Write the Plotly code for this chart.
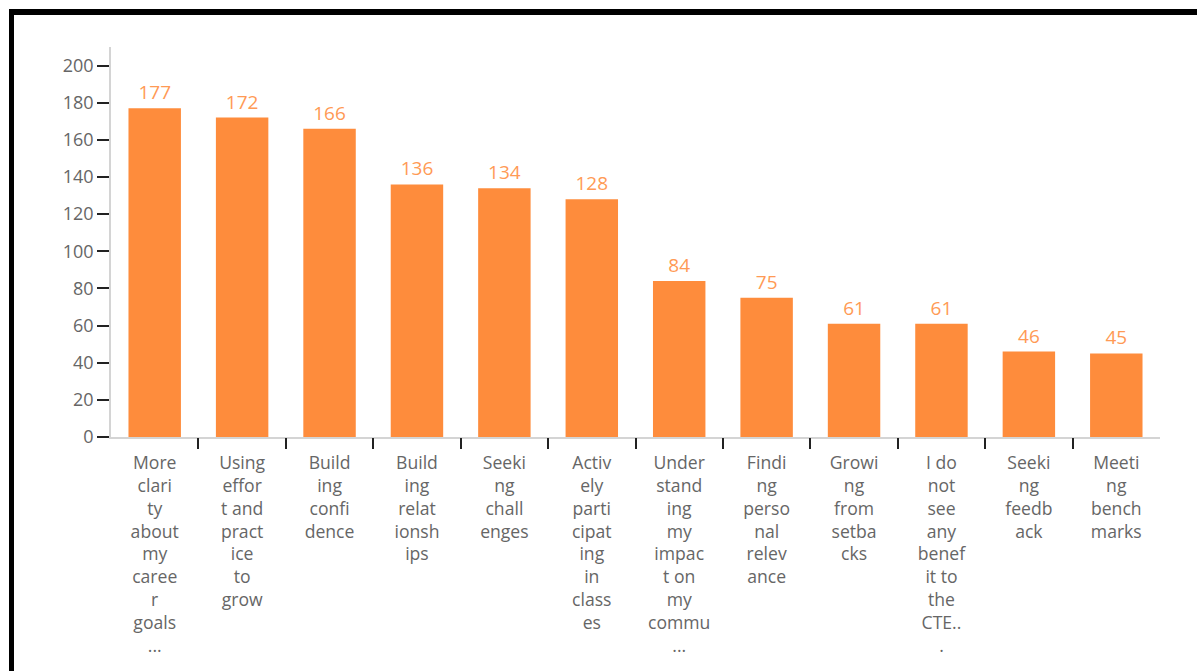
import plotly.graph_objects as go

# Responses per category (already wrapped the way the axis shows them)
categories = [
    "More<br>clari<br>ty<br>about<br>my<br>caree<br>r<br>goals<br>...",
    "Using<br>effor<br>t and<br>pract<br>ice<br>to<br>grow",
    "Build<br>ing<br>confi<br>dence",
    "Build<br>ing<br>relat<br>ionsh<br>ips",
    "Seeki<br>ng<br>chall<br>enges",
    "Activ<br>ely<br>parti<br>cipat<br>ing<br>in<br>class<br>es",
    "Under<br>stand<br>ing<br>my<br>impac<br>t on<br>my<br>commu<br>...",
    "Findi<br>ng<br>perso<br>nal<br>relev<br>ance",
    "Growi<br>ng<br>from<br>setba<br>cks",
    "I do<br>not<br>see<br>any<br>benef<br>it to<br>the<br>CTE..<br>.",
    "Seeki<br>ng<br>feedb<br>ack",
    "Meeti<br>ng<br>bench<br>marks",
]
counts = [177, 172, 166, 136, 134, 128, 84, 75, 61, 61, 46, 45]
y_ticks = [0, 20, 40, 60, 80, 100, 120, 140, 160, 180, 200]

BAR = "#FE8C3C"
LABEL = "#FF9A55"
GREY_TXT = "#666666"
FONT = "Open Sans"

W, H = 1197, 671
M = dict(l=111, r=37, t=47, b=234)
pw = W - M["l"] - M["r"]
ph = H - M["t"] - M["b"]


def px_x(p):
    return (p - M["l"]) / pw


def px_y(p):
    return (H - M["b"] - p) / ph


fig = go.Figure()
fig.add_trace(go.Bar(
    x=categories,
    y=counts,
    marker=dict(color=BAR, line=dict(width=0)),
    text=[str(v) for v in counts],
    textposition="outside",
    textfont=dict(color=LABEL, size=19, family=FONT),
    cliponaxis=False,
    hoverinfo="x+y",
))
# empty trace so the overlaid boundary-tick axis gets drawn
fig.add_trace(go.Scatter(x=[], y=[], xaxis="x2", yaxis="y",
                         mode="markers", hoverinfo="skip"))

n = len(categories)
fig.update_layout(
    width=W, height=H,
    margin=M,
    paper_bgcolor="white",
    plot_bgcolor="white",
    showlegend=False,
    bargap=0.4,
    font=dict(family=FONT, color=GREY_TXT),
    xaxis=dict(
        type="category",
        range=[-0.5, n - 0.5],
        showline=True, linecolor="#d4d4d4", linewidth=1.5,
        ticks="", showgrid=False, zeroline=False,
        tickfont=dict(size=17.6, color=GREY_TXT, family=FONT),
        tickangle=0,
        ticklabelstandoff=9,
        automargin=False,
    ),
    # boundary ticks between categories only
    xaxis2=dict(
        overlaying="x", anchor="y", side="bottom",
        range=[-0.5, n - 0.5],
        tickmode="array",
        tickvals=[i + 0.5 for i in range(n - 1)],
        showticklabels=False,
        ticks="outside", ticklen=11, tickwidth=2, tickcolor="#222222",
        showline=False, showgrid=False, zeroline=False,
    ),
    yaxis=dict(
        range=[0, 210],
        tickmode="array", tickvals=y_ticks,
        ticks="outside", ticklen=12, tickwidth=2, tickcolor="#222222",
        showline=True, linecolor="#d4d4d4", linewidth=1.5,
        showgrid=False, zeroline=False,
        tickfont=dict(size=18, color=GREY_TXT, family=FONT),
        automargin=False,
    ),
    shapes=[
        # frame: top and left edges
        dict(type="rect", xref="paper", yref="paper",
             x0=px_x(9), x1=px_x(W + 5), y0=px_y(15), y1=px_y(9),
             fillcolor="black", line=dict(width=0), layer="above"),
        dict(type="rect", xref="paper", yref="paper",
             x0=px_x(9), x1=px_x(14), y0=px_y(H + 5), y1=px_y(9),
             fillcolor="black", line=dict(width=0), layer="above"),
    ],
)

fig.write_html("out.html")
